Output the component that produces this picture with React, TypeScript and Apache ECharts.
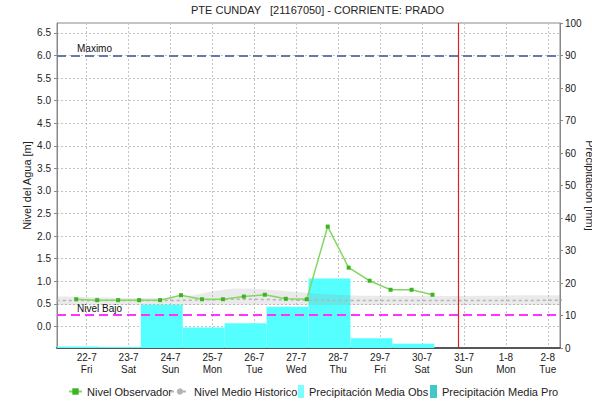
import React, { useEffect, useRef } from 'react';
import * as echarts from 'echarts';

const titleText = 'PTE CUNDAY   [21167050] - CORRIENTE: PRADO';

const xMin = '2022-07-21 07:00';
const xMax = '2022-08-02 07:00';
const dayTicks = [
  '2022-07-22', '2022-07-23', '2022-07-24', '2022-07-25', '2022-07-26', '2022-07-27',
  '2022-07-28', '2022-07-29', '2022-07-30', '2022-07-31', '2022-08-01', '2022-08-02',
];
const weekdayNames = ['Sun', 'Mon', 'Tue', 'Wed', 'Thu', 'Fri', 'Sat'];
const levelTicks = [0, 0.5, 1, 1.5, 2, 2.5, 3, 3.5, 4, 4.5, 5, 5.5, 6, 6.5];

const levelTimes = [
  '2022-07-21 18:00', '2022-07-22 06:00', '2022-07-22 18:00', '2022-07-23 06:00',
  '2022-07-23 18:00', '2022-07-24 06:00', '2022-07-24 18:00', '2022-07-25 06:00',
  '2022-07-25 18:00', '2022-07-26 06:00', '2022-07-26 18:00', '2022-07-27 06:00',
  '2022-07-27 18:00', '2022-07-28 06:00', '2022-07-28 18:00', '2022-07-29 06:00',
  '2022-07-29 18:00', '2022-07-30 06:00',
];
const levelValues = [
  0.6, 0.58, 0.58, 0.58, 0.58, 0.69, 0.6, 0.6, 0.66, 0.7, 0.61, 0.6,
  2.21, 1.3, 1.01, 0.81, 0.81, 0.7,
];

const histTimes = [
  '2022-07-21 00:00', '2022-07-21 12:00', '2022-07-22 00:00', '2022-07-22 12:00',
  '2022-07-23 00:00', '2022-07-23 12:00', '2022-07-24 00:00', '2022-07-24 12:00',
  '2022-07-25 00:00', '2022-07-25 12:00', '2022-07-26 00:00', '2022-07-26 12:00',
  '2022-07-27 00:00', '2022-07-27 12:00', '2022-07-28 00:00', '2022-07-28 12:00',
  '2022-07-29 00:00', '2022-07-29 12:00', '2022-07-30 00:00', '2022-07-30 12:00',
  '2022-07-31 00:00', '2022-07-31 12:00', '2022-08-01 00:00', '2022-08-01 12:00',
  '2022-08-02 00:00', '2022-08-02 12:00',
];
const histMedian = [
  0.57, 0.57, 0.57, 0.57, 0.57, 0.57, 0.57, 0.58, 0.59, 0.6, 0.6, 0.59, 0.58,
  0.58, 0.57, 0.57, 0.57, 0.57, 0.57, 0.57, 0.57, 0.57, 0.57, 0.57, 0.58, 0.58,
];
const histLow = [
  0.47, 0.47, 0.47, 0.47, 0.47, 0.47, 0.47, 0.47, 0.48, 0.48, 0.48, 0.48, 0.48,
  0.47, 0.47, 0.47, 0.47, 0.47, 0.47, 0.47, 0.47, 0.47, 0.47, 0.47, 0.47, 0.47,
];
const histHigh = [
  0.66, 0.66, 0.65, 0.64, 0.63, 0.63, 0.63, 0.68, 0.78, 0.84, 0.83, 0.8, 0.76,
  0.72, 0.7, 0.68, 0.68, 0.67, 0.67, 0.67, 0.67, 0.68, 0.68, 0.69, 0.69, 0.69,
];

const precipStart = [
  '2022-07-21 07:00', '2022-07-22 07:00', '2022-07-23 07:00', '2022-07-24 07:00',
  '2022-07-25 07:00', '2022-07-26 07:00', '2022-07-27 07:00', '2022-07-28 07:00',
  '2022-07-29 07:00',
];
const precipEnd = [
  '2022-07-22 07:00', '2022-07-23 07:00', '2022-07-24 07:00', '2022-07-25 07:00',
  '2022-07-26 07:00', '2022-07-27 07:00', '2022-07-28 07:00', '2022-07-29 07:00',
  '2022-07-30 07:00',
];
const precipObs = [0.5, 0.3, 13.3, 6.3, 7.6, 12.7, 21.4, 3.0, 1.3];

const nivelMaximo = 6.0;
const nivelBajo = 0.25;
const nowTime = '2022-07-30 21:00';

function t(s: string): number {
  const [d, h = '00:00'] = s.split(' ');
  const [Y, M, D] = d.split('-').map(Number);
  const [hh, mm] = h.split(':').map(Number);
  return new Date(Y, M - 1, D, hh, mm).getTime();
}

const FONT = '"Liberation Sans", Arial, sans-serif';

export default function App() {
  const ref = useRef<HTMLDivElement>(null);
  useEffect(() => {
    if (!ref.current) return;
    const chart = echarts.init(ref.current, undefined, { renderer: 'svg' });
    const gridLine = { show: true, lineStyle: { color: '#c4c4c4', type: [2, 2] as any, width: 1 } };
    const dayTickValues = dayTicks.map((d) => t(d));
    const option: any = {
      animation: false,
      backgroundColor: '#fff',
      textStyle: { fontFamily: FONT },
      title: {
        text: titleText,
        left: 191,
        top: 4,
        padding: 0,
        textStyle: { fontSize: 11, fontWeight: 'normal', color: '#222', fontFamily: FONT },
      },
      grid: {
        left: 57, top: 23, width: 503, height: 325,
        show: true, borderColor: '#888', borderWidth: 1, backgroundColor: '#fff',
        containLabel: false,
        outerBoundsMode: 'none',
      },
      legend: [
        {
          data: ['Nivel Observador'], left: 68, top: 386, padding: 0,
          itemWidth: 13, itemHeight: 8,
          textStyle: { fontSize: 11, color: '#222', fontFamily: FONT },
        },
        {
          data: ['Nivel Medio Historico'], left: 170, top: 386, padding: 0,
          itemWidth: 18, itemHeight: 8,
          textStyle: { fontSize: 11, color: '#222', fontFamily: FONT },
        },
        {
          data: [{ name: 'Precipitación Media Obs', icon: 'rect', itemStyle: { color: '#7ffcff' } }],
          left: 298, top: 385, padding: 0,
          itemWidth: 6, itemHeight: 13,
          textStyle: { fontSize: 11, color: '#222', fontFamily: FONT },
        },
        {
          data: [{ name: 'Precipitación Media Pro', icon: 'rect' }],
          left: 430, top: 385, padding: 0,
          itemWidth: 7, itemHeight: 13,
          textStyle: { fontSize: 11, color: '#222', fontFamily: FONT },
        },
      ],
      xAxis: {
        type: 'value',
        min: t(xMin),
        max: t(xMax),
        axisLine: { show: true, onZero: false, lineStyle: { color: '#555', type: [1, 1], width: 2 } },
        axisTick: { show: false, customValues: dayTickValues },
        axisLabel: {
          customValues: dayTickValues,
          fontSize: 10,
          color: '#222',
          margin: 3,
          lineHeight: 12,
          fontFamily: FONT,
          formatter: (v: number) => {
            const d = new Date(v);
            return `${d.getDate()}-${d.getMonth() + 1}\n${weekdayNames[d.getDay()]}`;
          },
        },
        splitLine: gridLine,
      },
      yAxis: [
        {
          type: 'value',
          min: -0.48,
          max: 6.72,
          name: 'Nivel del Agua [m]',
          nameLocation: 'middle',
          nameGap: 25,
          nameMoveOverlap: false,
          nameRotate: 90,
          nameTextStyle: { fontSize: 11, color: '#222', fontFamily: FONT },
          axisLine: { show: true, onZero: false, lineStyle: { color: '#888' } },
          axisTick: { show: true, length: 3, customValues: levelTicks, lineStyle: { color: '#888' } },
          axisLabel: {
            customValues: levelTicks,
            fontSize: 10, color: '#222', margin: 6, fontFamily: FONT,
            formatter: (v: number) => v.toFixed(1),
          },
          splitLine: gridLine,
        },
        {
          type: 'value',
          min: 0,
          max: 100,
          interval: 10,
          position: 'right',
          name: 'Precipitación [mm]',
          nameLocation: 'middle',
          nameGap: 24,
          nameMoveOverlap: false,
          nameRotate: -90,
          nameTextStyle: { fontSize: 11, color: '#222', fontFamily: FONT },
          axisLine: { show: true, onZero: false, lineStyle: { color: '#888' } },
          axisTick: { show: true, length: 3, lineStyle: { color: '#888' } },
          axisLabel: { fontSize: 10, color: '#222', margin: 5, fontFamily: FONT },
          splitLine: { show: false },
        },
      ],
      series: [
        {
          type: 'custom',
          name: 'Precipitación Media Obs',
          xAxisIndex: 0,
          yAxisIndex: 1,
          clip: true,
          itemStyle: { color: '#55ffff' },
          encode: { x: [0, 1], y: 2 },
          data: precipObs.map((v, i) => [t(precipStart[i]), t(precipEnd[i]), v]),
          renderItem: (params: any, api: any) => {
            const p1 = api.coord([api.value(0), api.value(2)]);
            const p2 = api.coord([api.value(1), 0]);
            return {
              type: 'rect',
              shape: { x: p1[0], y: p1[1], width: p2[0] - p1[0], height: p2[1] - p1[1] },
              style: { fill: '#55ffff' },
            };
          },
        },
        {
          type: 'custom',
          name: 'Precipitación Media Pro',
          xAxisIndex: 0,
          yAxisIndex: 1,
          itemStyle: { color: '#40c8c8' },
          data: [],
          renderItem: () => null,
        },
        {
          type: 'custom',
          name: 'Rango Historico',
          xAxisIndex: 0,
          yAxisIndex: 0,
          clip: true,
          silent: true,
          data: [[t(levelTimes[0]), histMedian[0]]],
          renderItem: (params: any, api: any) => {
            const upper = histTimes.map((s, i) => api.coord([t(s), histHigh[i]]));
            const lower = histTimes.map((s, i) => api.coord([t(s), histLow[i]])).reverse();
            return {
              type: 'polygon',
              shape: { points: upper.concat(lower) },
              style: { fill: 'rgba(150,150,150,0.2)' },
            };
          },
        },
        {
          type: 'line',
          name: 'Nivel Medio Historico',
          symbol: 'none',
          lineStyle: { color: '#b4b4b4', width: 1.5, type: [3, 3] },
          itemStyle: { color: '#b4b4b4' },
          data: histTimes.map((s, i) => [t(s), histMedian[i]]),
          markLine: {
            silent: true,
            symbol: ['none', 'none'],
            animation: false,
            data: [
              {
                yAxis: nivelMaximo,
                lineStyle: { color: '#6878a8', width: 2, type: [9, 5] },
                label: {
                  show: true, formatter: 'Maximo', position: 'insideStartTop',
                  distance: [20, 2], fontSize: 10, color: '#111', fontFamily: FONT,
                },
              },
              {
                yAxis: nivelBajo,
                lineStyle: { color: '#ff33ff', width: 2, type: [9, 5] },
                label: {
                  show: true, formatter: 'Nivel Bajo', position: 'insideStartTop',
                  distance: [20, 2], fontSize: 10, color: '#111', fontFamily: FONT,
                },
              },
              {
                xAxis: t(nowTime),
                lineStyle: { color: '#e02020', width: 1.2, type: 'solid' },
                label: { show: false },
              },
            ],
          },
        },
        {
          type: 'line',
          name: 'Nivel Observador',
          symbol: 'rect',
          symbolSize: 4,
          lineStyle: { color: '#84d764', width: 1.5 },
          itemStyle: { color: '#3db523' },
          data: levelTimes.map((s, i) => [t(s), levelValues[i]]),
        },
      ],
    };
    chart.setOption(option);
    return () => chart.dispose();
  }, []);
  return (
    <div
      ref={ref}
      style={{ position: 'fixed', left: 0, top: 0, width: 592, height: 403, background: '#fff' }}
    />
  );
}
